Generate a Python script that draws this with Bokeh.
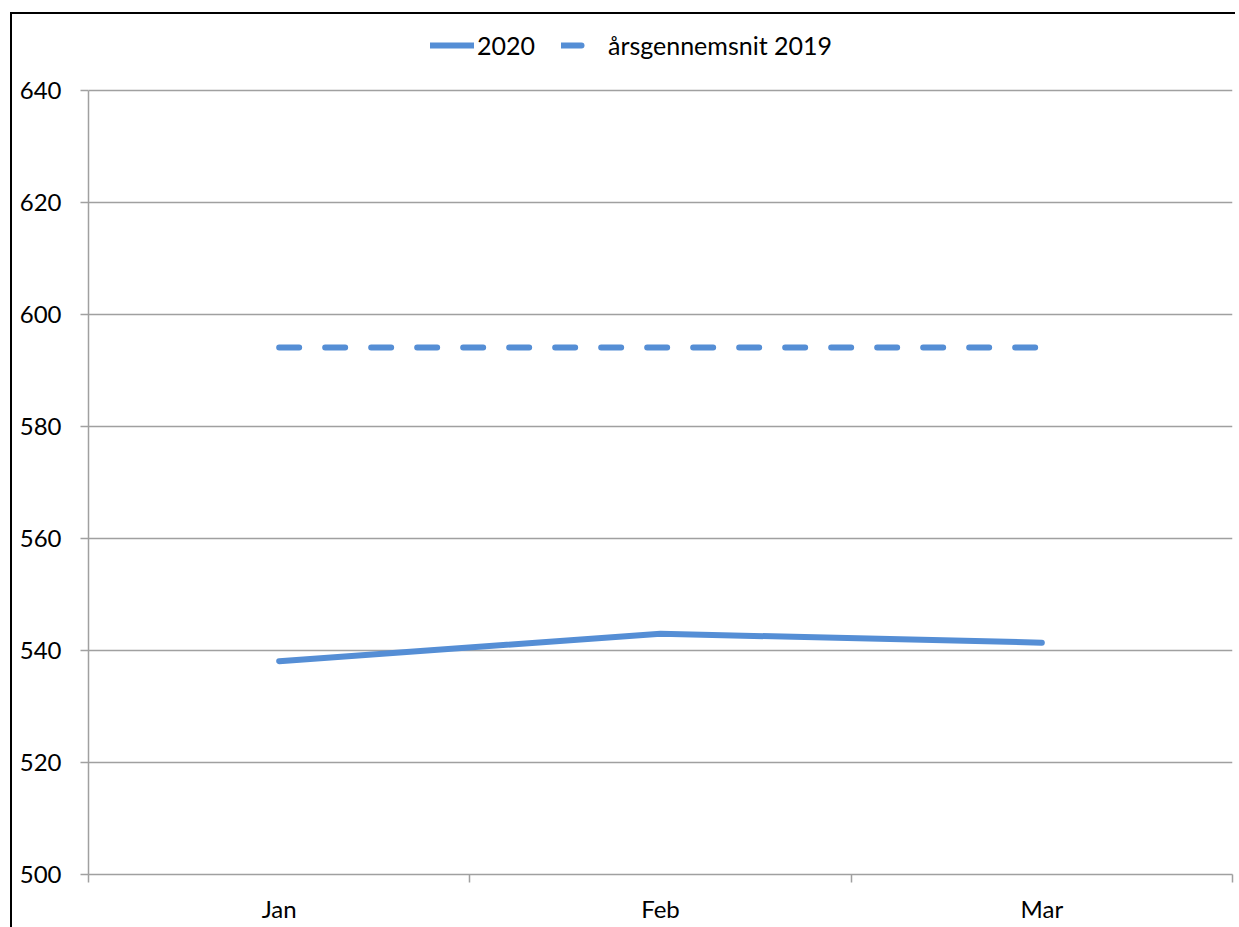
from bokeh.plotting import figure
from bokeh.models import FixedTicker, Range1d, Legend, LegendItem
from bokeh.embed import file_html
from bokeh.resources import INLINE

months = ["Jan", "Feb", "Mar"]
values_2020 = [538.1, 543.0, 541.4]
avg_2019 = [594.1, 594.1, 594.1]
y_ticks = [500, 520, 540, 560, 580, 600, 620, 640]

FONT = "Lato"
BLUE = "#558ED5"
GRID = "#a0a0a0"
TOP_PAD = 12.5  # headroom above the top tick (in value units) for the legend

x = [i + 0.5 for i in range(len(months))]

p = figure(width=1225, height=920, output_backend="svg", toolbar_location=None,
           x_range=Range1d(0, len(months)),
           y_range=Range1d(y_ticks[0], y_ticks[-1] + TOP_PAD),
           min_border_left=76, min_border_right=5, min_border_top=6, min_border_bottom=60)
p.margin = (12, 0, -20, 10)
p.styles = {"border-top": "2px solid #000", "border-left": "2px solid #000"}
p.outline_line_color = None
p.background_fill_color = "white"
p.border_fill_color = "white"

r1 = p.line(x, values_2020, line_color=BLUE, line_width=6, line_cap="round", line_join="round")
r2 = p.line(x, avg_2019, line_color=BLUE, line_width=6, line_dash="20 26", line_cap="round")

# x axis: labels at centers, ticks at category boundaries
p.xaxis.ticker = FixedTicker(ticks=x, minor_ticks=list(range(len(months) + 1)))
p.xaxis.major_label_overrides = {xi: m for xi, m in zip(x, months)}
p.xaxis.major_tick_out = 0
p.xaxis.major_tick_in = 0
p.xaxis.minor_tick_out = 8
p.xaxis.minor_tick_in = 0
p.xaxis.minor_tick_line_color = GRID
p.xaxis.minor_tick_line_width = 1.5
p.xaxis.axis_line_color = GRID
p.xaxis.axis_line_width = 1.5
p.xaxis.major_label_standoff = 11
p.xaxis.major_label_text_font = FONT
p.xaxis.major_label_text_font_size = "24px"
p.xaxis.major_label_text_color = "black"

p.yaxis.ticker = FixedTicker(ticks=y_ticks)
p.yaxis.bounds = (y_ticks[0], y_ticks[-1])
p.yaxis.major_tick_out = 8
p.yaxis.major_tick_in = 0
p.yaxis.minor_tick_line_color = None
p.yaxis.major_tick_line_color = GRID
p.yaxis.major_tick_line_width = 1.5
p.yaxis.axis_line_color = GRID
p.yaxis.axis_line_width = 1.5
p.yaxis.major_label_standoff = 19
p.yaxis.major_label_text_font = FONT
p.yaxis.major_label_text_font_size = "24px"
p.yaxis.major_label_text_color = "black"

p.xgrid.grid_line_color = None
p.ygrid.ticker = FixedTicker(ticks=y_ticks)
p.ygrid.grid_line_color = GRID
p.ygrid.grid_line_width = 1.5

legend = Legend(items=[LegendItem(label="2020", renderers=[r1]),
                       LegendItem(label="årsgennemsnit 2019", renderers=[r2])],
                orientation="horizontal", location=(342, 814),
                glyph_width=44, glyph_height=20, label_standoff=3, spacing=26,
                padding=0, margin=0, border_line_color=None, background_fill_alpha=0,
                label_text_font=FONT, label_text_font_size="25px", label_text_color="black")
p.add_layout(legend)

open("out.html", "w").write(file_html(p, INLINE))
